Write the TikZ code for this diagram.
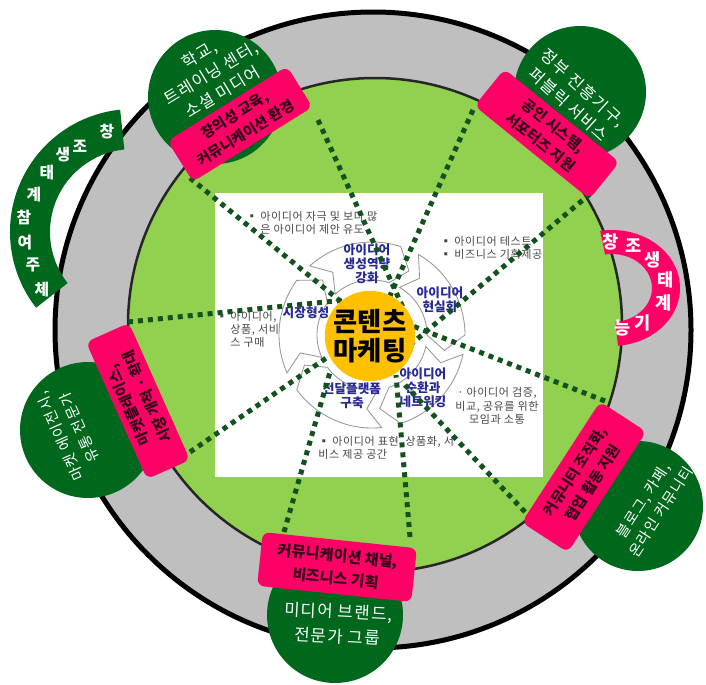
\documentclass[tikz,border=0pt]{standalone}
\usepackage{fontspec}
\setmainfont{Noto Sans CJK KR}
\newfontfamily\handfont{Noto Sans CJK KR}[LetterSpace=8]
\newfontfamily\notefont{Noto Sans CJK KR}[LetterSpace=5]
\usetikzlibrary{positioning}
\definecolor{ringGrey}{RGB}{191,191,191}
\definecolor{fieldGreen}{RGB}{146,208,80}
\definecolor{deepGreen}{RGB}{0,104,28}
\definecolor{hotPink}{RGB}{255,0,102}
\definecolor{pinkInk}{RGB}{50,0,25}
\definecolor{dotGreen}{RGB}{18,82,28}
\definecolor{coreYellow}{RGB}{255,192,0}
\definecolor{stageBlue}{RGB}{40,40,150}
\definecolor{noteGrey}{RGB}{70,70,70}

\begin{document}
\begin{tikzpicture}[x=0.02cm, y=-0.02cm,
  ring/.style={fill=ringGrey, draw=black, line width=0.1cm},
  field/.style={fill=fieldGreen, draw=black!85, line width=0.05cm},
  hub/.style={circle, fill=deepGreen, inner sep=0pt},
  hubtext/.style={text=white, align=center, inner sep=0pt,
                  font=\handfont\fontsize{9.3}{12.5}\selectfont},
  pinkbox/.style={fill=hotPink, rounded corners=4pt, align=center,
                  inner sep=1pt, text=pinkInk,
                  font=\bfseries\fontsize{8.3}{12}\selectfont},
  dots/.style={draw=dotGreen, line width=0.1cm, dash pattern=on 0.1cm off 0.1cm},
  cyc/.style={draw=black!40, fill=white, line width=0.5pt},
  stage/.style={text=stageBlue, align=center, inner sep=0pt,
                font=\bfseries\fontsize{7.2}{7.9}\selectfont},
  note/.style={text=noteGrey, align=left, inner sep=0pt,
               font=\notefont\fontsize{6.3}{7.5}\selectfont},
  arcch/.style={text=white, inner sep=0pt, font=\bfseries\fontsize{9}{9}\selectfont}
]
  \useasboundingbox (0,0) rectangle (706,684);

  % Rings
  \draw[ring] (373,330) circle (318);
  \draw[field] (375,325) circle (247);

  % Arc bands
  \begin{scope}[shift={(133,232)}, yscale=-1]
    \fill[deepGreen] (96:123) arc[start angle=96, end angle=218, radius=123]
      -- (218:83) arc[start angle=218, end angle=96, radius=83] -- cycle;
  \end{scope}
  \begin{scope}[shift={(612,288)}, yscale=-1]
    \fill[hotPink] (100:68 and 58) arc[start angle=100, end angle=-85, x radius=68, y radius=58]
      -- (-85:40 and 34) arc[start angle=-85, end angle=100, x radius=40, y radius=34] -- cycle;
  \end{scope}
  \foreach \ch/\px/\py [count=\i] in {창/107/132, 조/80/146, 생/63/155, 태/47/173,
      계/34/195, 참/24/217, 여/25/243, 주/33/265, 체/42/290}
    \node[arcch] (join\i) at (\px,\py) {\ch};
  \foreach \ch/\px/\py [count=\i] in {창/611/242, 조/634/246, 생/653/260, 태/666/280,
      계/664/303, 기/643/323, 능/623/328}
    \node[arcch, font=\bfseries\fontsize{10}{10}\selectfont] (role\i) at (\px,\py) {\ch};

  % Inner panel
  \fill[white] (215,193) rectangle (543,477);

  % Cycle
  \begin{scope}[shift={(372,335)}, yscale=-1]
    \foreach \c in {97,25,-47,-119,169}
      \draw[cyc] (\c+35:93) arc[start angle=\c+35, end angle=\c-25, radius=93]
        -- (\c-37:74) -- (\c-25:55) arc[start angle=\c-25, end angle=\c+35, radius=55]
        -- (\c+25:74) -- cycle;
  \end{scope}
  \node[stage] (s1) at (367,264) {아이디어\\생성역량\\강화};
  \node[stage] (s2) at (440,300) {아이디어\\현실화};
  \node[stage] (s3) at (423,388) {아이디어\\순환과\\네트워킹};
  \node[stage] (s4) at (352,396) {전달플랫폼\\구축};
  \node[stage] (s5) at (306,313) {시장형성};

  % Notes
  \node[note, anchor=north west] (n1) at (246,211)
    {▪ 아이디어 자극 및 보다 많\\\hphantom{▪ }은 아이디어 제안 유도};
  \node[note, anchor=north west] (n2) at (440,236) {▪ 아이디어 테스트\\▪ 비즈니스 기획제공};
  \node[note, anchor=north west] (n3) at (216,311)
    {▪ 아이디어,\\\hphantom{▪ }상품, 서비\\\hphantom{▪ }스 구매};
  \node[note, align=center] (n4) at (497,406) {· 아이디어 검증,\\비교, 공유를 위한\\모임과 소통};
  \node[note, anchor=north west] (n5) at (318,436) {▪ 아이디어 표현, 상품화, 서\\비스 제공 공간};

  % Dotted links
  \coordinate (tlA) at (190,178);  \coordinate (tlA') at (345,305);
  \coordinate (tlB) at (318,120);  \coordinate (tlB') at (405,312);
  \coordinate (trA) at (473,110);  \coordinate (trA') at (380,318);
  \coordinate (trB) at (590,194);  \coordinate (trB') at (410,345);
  \coordinate (rtA) at (605,401);  \coordinate (rtA') at (405,323);
  \coordinate (rtB) at (525,512);  \coordinate (rtB') at (405,385);
  \coordinate (btA) at (284,532);  \coordinate (btA') at (330,372);
  \coordinate (btB) at (410,537);  \coordinate (btB') at (396,375);
  \coordinate (ltA) at (128,322);  \coordinate (ltA') at (345,300);
  \coordinate (ltB) at (190,452);  \coordinate (ltB') at (335,352);
  \foreach \p in {tlA,tlB,trA,trB,rtA,rtB,btA,btB,ltA,ltB}
    \draw[dots] (\p) -- (\p');

  % Core
  \node[circle, fill=coreYellow, minimum size=1.72cm, inner sep=0pt, align=center,
        font=\bfseries\fontsize{15}{16.5}\selectfont] (core) at (370,336) {콘텐츠\\마케팅};

  % Outer hubs
  \node[hub, minimum size=2.68cm] (hubTL) at (215,97) {};
  \node[hub, minimum size=2.64cm] (hubTR) at (580,92) {};
  \node[hub, minimum size=2.72cm] (hubL) at (88,430) {};
  \node[hub, minimum size=2.6cm] (hubR) at (638,506) {};
  \node[hub, minimum size=2.72cm] (hubB) at (335,615) {};

  % Pink boxes
  \node[pinkbox, minimum width=2.82cm, minimum height=0.96cm, rotate=32] (edu) at (240,124)
    {창의성 교육,\\커뮤니케이션 환경};
  \node[pinkbox, minimum width=2.96cm, minimum height=0.95cm, rotate=-39] (gov) at (547,134)
    {공인 시스템,\\서포터즈 지원};
  \node[pinkbox, minimum width=2.88cm, minimum height=1.1cm, rotate=57] (net) at (584,477)
    {커뮤니티 조직화,\\협업 활동 지원};
  \node[pinkbox, minimum width=3.1cm, minimum height=1.08cm, rotate=-6,
        font=\bfseries\fontsize{8.6}{13}\selectfont] (chan) at (337,567)
    {커뮤니케이션 채널,\\비즈니스 기획};
  \node[pinkbox, minimum width=3.0cm, minimum height=0.94cm, rotate=114] (mkt) at (138,401)
    {마켓플레이스,\\시장 개척 · 확대};

  % Hub texts
  \node[hubtext, rotate=31] (tTL) at (211,73) {학교,\\트레이닝 센터,\\소셜 미디어};
  \node[hubtext, rotate=-42] (tTR) at (576,96) {정부 진흥기구,\\퍼블릭 서비스};
  \node[hubtext, rotate=-3, font=\handfont\fontsize{9.5}{14}\selectfont] (tB) at (338,624)
    {미디어 브랜드,\\전문가 그룹};
  \node[hubtext, rotate=114, font=\handfont\fontsize{8.3}{12}\selectfont] (tL) at (70,432)
    {마켓 에이전시,\\유통 전문가};
  \node[hubtext, rotate=57, font=\handfont\fontsize{8.3}{12}\selectfont] (tR) at (652,506)
    {블로그, 카페,\\온라인 커뮤니티};
\end{tikzpicture}
\end{document}
